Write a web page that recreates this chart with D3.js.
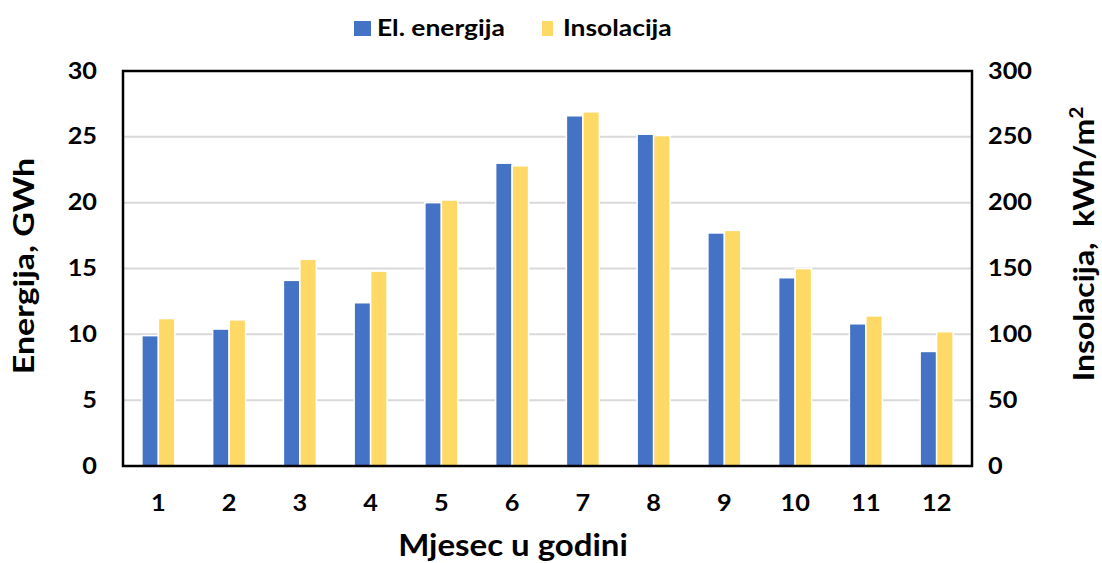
<!DOCTYPE html>
<html><head><meta charset="utf-8">
<script src="https://cdn.jsdelivr.net/npm/d3@7"></script>
<style>body{margin:0;background:#fff}svg{display:block}text{font-family:Lato,"Open Sans",sans-serif;font-weight:bold;fill:#000}</style>
</head><body><svg id="c" width="1102" height="563"></svg>
<script>
const months = ["1","2","3","4","5","6","7","8","9","10","11","12"];
const energy = [9.9, 10.4, 14.1, 12.4, 20.0, 23.0, 26.6, 25.2, 17.7, 14.3, 10.8, 8.7];
const insolation = [112, 111, 157, 148, 202, 228, 269, 251, 179, 150, 114, 102];
const leftTicks = [0,5,10,15,20,25,30];
const rightTicks = [0,50,100,150,200,250,300];
const seriesNames = ["El. energija","Insolacija"];
const colors = ["#4472C4","#FFD966"];

const svg = d3.select("#c");
const L=123, R=972, T=71, B=466;
const SX = 1.15;
const x = d3.scaleBand().domain(months).range([L,R]).paddingInner(0.534).paddingOuter(0.267);
const xs = d3.scaleBand().domain([0,1]).range([0,x.bandwidth()]);
const yL = d3.scaleLinear().domain([0,30]).range([B,T]);
const yR = d3.scaleLinear().domain([0,300]).range([B,T]);

// gridlines
svg.append("g").selectAll("line").data(leftTicks.filter(d=>d>0&&d<30)).join("line")
  .attr("x1",L).attr("x2",R).attr("y1",d=>yL(d)).attr("y2",d=>yL(d))
  .attr("stroke","#d9d9d9").attr("stroke-width",2);

// bars
const g = svg.append("g");
g.selectAll("rect.e").data(energy).join("rect").attr("class","e")
  .attr("x",(d,i)=>x(months[i])+xs(0)).attr("width",xs.bandwidth())
  .attr("y",d=>yL(d)).attr("height",d=>B-yL(d))
  .attr("fill",colors[0]).attr("stroke","#fff").attr("stroke-width",1.5);
g.selectAll("rect.s").data(insolation).join("rect").attr("class","s")
  .attr("x",(d,i)=>x(months[i])+xs(1)).attr("width",xs.bandwidth())
  .attr("y",d=>yR(d)).attr("height",d=>B-yR(d))
  .attr("fill",colors[1]).attr("stroke","#fff").attr("stroke-width",1.5);

// frame
svg.append("rect").attr("x",L).attr("y",T).attr("width",R-L).attr("height",B-T)
  .attr("fill","none").attr("stroke","#000").attr("stroke-width",2.5);

// axes
const axL = svg.append("g").attr("transform",`translate(${L},0)`)
  .call(d3.axisLeft(yL).tickValues(leftTicks).tickSize(0));
const axR = svg.append("g").attr("transform",`translate(${R},0)`)
  .call(d3.axisRight(yR).tickValues(rightTicks).tickSize(0));
const axB = svg.append("g").attr("transform",`translate(0,${B})`)
  .call(d3.axisBottom(x).tickSize(0).tickPadding(29));
[axL,axR,axB].forEach(a=>{a.select(".domain").remove();
  a.selectAll("text").style("font-family","Lato").style("font-weight","bold").style("font-size","22px")
   .attr("fill","#000").attr("transform",`scale(${SX},1)`);});
axL.selectAll("text").attr("x",-26/SX);
axR.selectAll("text").attr("x",16/SX);

// axis titles
svg.append("text").attr("transform","translate(34,266) rotate(-90) scale(1.17,1)").attr("text-anchor","middle")
  .style("font-size","29px").text("Energija, GWh");
const rt = svg.append("text").attr("transform","translate(1094,244) rotate(-90) scale(1.1,1)").attr("text-anchor","middle")
  .style("font-size","29px");
rt.append("tspan").text("Insolacija,\u00a0 kWh/m");
rt.append("tspan").attr("dy",-11).style("font-size","19px").text("2");
svg.append("text").attr("transform","translate(513,556) scale(1.1,1)").attr("text-anchor","middle")
  .style("font-size","30px").text("Mjesec u godini");

// legend
const leg = [{x:354,w:17,tx:377},{x:542,w:11,tx:563}];
leg.forEach((l,i)=>{
  svg.append("rect").attr("x",l.x).attr("y",21).attr("width",l.w).attr("height",15).attr("fill",colors[i]);
  svg.append("text").attr("transform",`translate(${l.tx},36) scale(1.2,1)`).style("font-size","22px").text(seriesNames[i]);
});
</script></body></html>
